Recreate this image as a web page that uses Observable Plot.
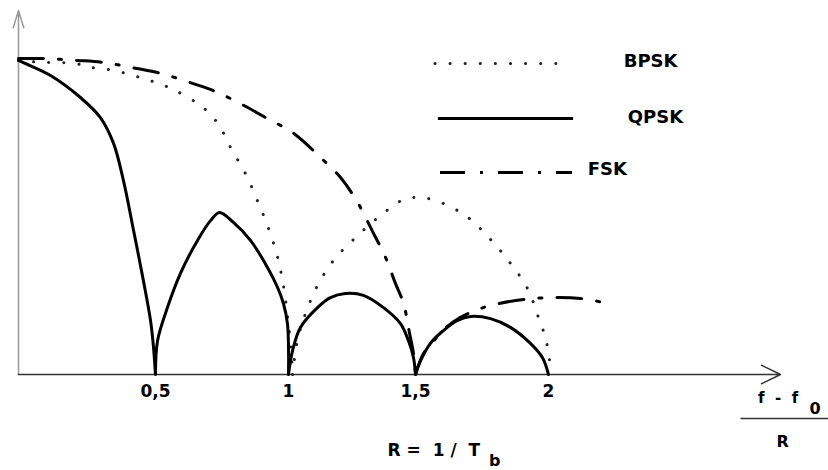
<!DOCTYPE html>
<html>
<head>
<meta charset="utf-8">
<script src="https://cdn.jsdelivr.net/npm/d3@7"></script>
<script src="https://cdn.jsdelivr.net/npm/@observablehq/plot@0.6"></script>
<style>
  html, body { margin: 0; padding: 0; background: #fff; }
  #chart svg { display: block; }
</style>
</head>
<body>
<div id="chart"></div>
<script>
// ---- data (x in (f - f0)/R, y relative power) ----
const xTicks = [0.5, 1, 1.5, 2];
const xTickLabels = ["0,5", "1", "1,5", "2"];
const seriesNames = ["BPSK", "QPSK", "FSK"];

// QPSK: four lobes, separated by null
const qpskX = [0, 0.026, 0.117, 0.226, 0.299, 0.347, 0.383, 0.420, 0.456, 0.482, 0.493, 0.5, null,
  0.5, 0.508, 0.545, 0.594, 0.658, 0.707, 0.741, 0.793, 0.857, 0.921, 0.959, 0.981, 0.996, 1.0, 1.0, null,
  1.0, 1.016, 1.047, 1.114, 1.165, 1.224, 1.295, 1.374, 1.441, 1.472, 1.492, 1.5, null,
  1.5, 1.508, 1.556, 1.605, 1.658, 1.707, 1.782, 1.857, 1.932, 1.977, 2.0];
const qpskY = [1.0, 0.990, 0.952, 0.882, 0.818, 0.736, 0.618, 0.459, 0.299, 0.172, 0.086, 0, null,
  0, 0.108, 0.213, 0.322, 0.427, 0.490, 0.516, 0.484, 0.427, 0.341, 0.277, 0.226, 0.162, 0.086, 0, null,
  0, 0.076, 0.150, 0.213, 0.245, 0.258, 0.252, 0.213, 0.162, 0.108, 0.054, 0, null,
  0, 0.022, 0.099, 0.140, 0.172, 0.185, 0.178, 0.150, 0.099, 0.054, 0];

// BPSK: two lobes
const bpskX = [0, 0.080, 0.208, 0.263, 0.328, 0.391, 0.453, 0.511, 0.575, 0.658, 0.707, 0.744, 0.782, 0.838, 0.883, 0.925, 0.959, 0.981, 0.996, 1.008, 1.016, null,
  1.016, 1.035, 1.067, 1.114, 1.177, 1.264, 1.362, 1.453, 1.511, 1.575, 1.688, 1.782, 1.857, 1.921, 1.962, 1.989, 2.004, 2.008];
const bpskY = [1.0, 0.994, 0.990, 0.978, 0.971, 0.959, 0.943, 0.927, 0.904, 0.863, 0.828, 0.787, 0.723, 0.640, 0.554, 0.465, 0.373, 0.283, 0.188, 0.099, 0, null,
  0, 0.108, 0.194, 0.283, 0.363, 0.436, 0.506, 0.557, 0.564, 0.554, 0.506, 0.430, 0.354, 0.274, 0.182, 0.115, 0.045, 0];

// FSK: main lobe then second part
const fskX = [0, 0.091, 0.215, 0.307, 0.427, 0.519, 0.639, 0.726, 0.838, 0.914, 1.020, 1.126, 1.205, 1.272, 1.335, 1.382, 1.421, 1.453, 1.476, 1.492, 1.5, null,
  1.5, 1.530, 1.564, 1.602, 1.669, 1.726, 1.782, 1.906, 2.026, 2.120, 2.226];
const fskY = [1.006, 1.006, 1.0, 0.994, 0.975, 0.959, 0.927, 0.901, 0.854, 0.818, 0.768, 0.691, 0.627, 0.548, 0.449, 0.373, 0.290, 0.226, 0.134, 0.067, 0, null,
  0, 0.067, 0.102, 0.140, 0.182, 0.204, 0.220, 0.239, 0.245, 0.242, 0.226];

// ---- build tables ----
const rows = (xs, ys) => xs.map((x, i) => ({x: x == null ? NaN : x, y: ys[i] == null ? NaN : ys[i]}));
const qpsk = rows(qpskX, qpskY);
const bpsk = rows(bpskX, bpskY);
const fsk = rows(fskX, fskY);

// the hand-drawn axis is not evenly spaced: warp x before Plot's linear scale
const warp = d3.scaleLinear().domain([0, 0.5, 1, 1.5, 2, 2.87]).range([0, 0.5168, 1.0189, 1.4981, 2.0, 2.8755]);

const FONT = "DejaVu Sans, Liberation Sans, sans-serif";
const bpskStyle = {stroke: "#222", strokeWidth: 3, strokeDasharray: "0.1,15", strokeLinecap: "round"};
const qpskStyle = {stroke: "#000", strokeWidth: 3};
const fskStyle = {stroke: "#000", strokeWidth: 3, strokeDasharray: "25,15,3,15"};
const textStyle = {fontFamily: FONT, fontWeight: "bold", fill: "#000"};

const chart = Plot.plot({
  width: 828,
  height: 470,
  marginLeft: 18, marginRight: 48, marginTop: 10, marginBottom: 96,
  x: {type: "linear", transform: (v) => warp(v), domain: [0, 2.8755], range: [18, 780], axis: null},
  y: {domain: [0, 1.159], range: [374, 10], axis: null},
  style: {background: "#fff", overflow: "visible"},
  marks: [
    // axes with arrow heads
    Plot.arrow([0], {x1: 0, y1: 0, x2: 0, y2: 1.159, stroke: "#999", strokeWidth: 1.5, headLength: 18, headAngle: 34}),
    Plot.arrow([0], {x1: 0, y1: 0, x2: 2.87, y2: 0, stroke: "#333", strokeWidth: 1.5, headLength: 21, headAngle: 52}),

    // curves
    Plot.line(bpsk, {x: "x", y: "y", curve: "catmull-rom", ...bpskStyle}),
    Plot.line(fsk, {x: "x", y: "y", curve: "catmull-rom", ...fskStyle}),
    Plot.line(qpsk, {x: "x", y: "y", curve: "catmull-rom", ...qpskStyle}),

    // tick labels
    Plot.text(xTicks, {x: (d) => d, y: 0, text: (d, i) => xTickLabels[i], dy: 17, fontSize: 17, ...textStyle}),

    // legend
    Plot.ruleY([0.990], {x1: 1.575, x2: 2.056, ...bpskStyle}),
    Plot.ruleY([0.815], {x1: 1.586, x2: 2.094, ...qpskStyle}),
    Plot.ruleY([0.643], {x1: 1.594, x2: 2.090, ...fskStyle}),
    Plot.text([seriesNames[0]], {x: 2.282, y: 0.997, text: (d) => d, textAnchor: "start", fontSize: 18, ...textStyle}),
    Plot.text([seriesNames[1]], {x: 2.297, y: 0.818, text: (d) => d, textAnchor: "start", fontSize: 18, ...textStyle}),
    Plot.text([seriesNames[2]], {x: 2.147, y: 0.652, text: (d) => d, textAnchor: "start", fontSize: 18, ...textStyle}),

    // axis title (f - f0) / R
    Plot.text(["f\u00a0 -\u00a0 f"], {x: 2.786, y: -0.076, text: (d) => d, textAnchor: "start", fontSize: 15, ...textStyle}),
    Plot.text(["0"], {x: 3.0, y: -0.108, text: (d) => d, fontSize: 16, ...textStyle}),
    Plot.ruleY([-0.140], {x1: 2.722, x2: 3.06, stroke: "#333", strokeWidth: 1.5}),
    Plot.text(["R"], {x: 2.878, y: -0.213, text: (d) => d, fontSize: 16, ...textStyle}),

    // note R = 1/Tb
    Plot.text(["R =\u00a0 1 /\u00a0 T"], {x: 1.39, y: -0.242, text: (d) => d, textAnchor: "start", fontSize: 17, ...textStyle}),
    Plot.text(["b"], {x: 1.776, y: -0.274, text: (d) => d, textAnchor: "start", fontSize: 16, ...textStyle})
  ]
});
document.getElementById("chart").append(chart);
</script>
</body>
</html>
